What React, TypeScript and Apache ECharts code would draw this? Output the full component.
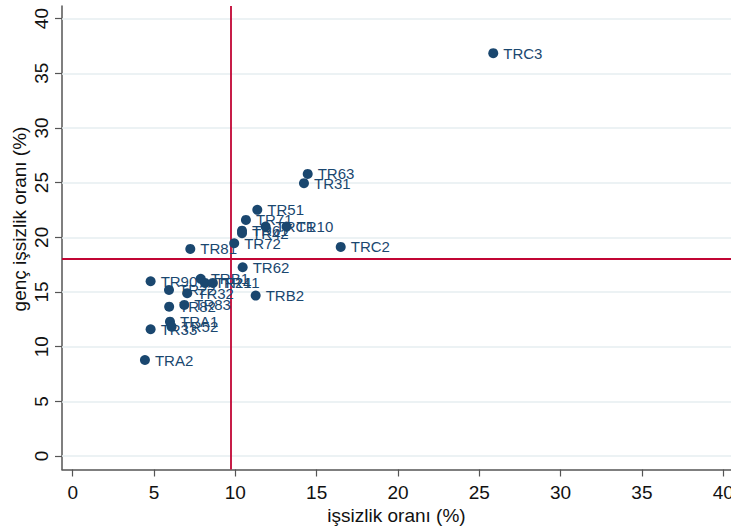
import React, { useEffect, useRef } from "react";
import * as echarts from "echarts";

const regions = [
  "TRC3", "TR63", "TR31", "TR51", "TR71", "TRC1", "TR10", "TR61", "TR42",
  "TR72", "TR81", "TRC2", "TR62", "TRB2", "TR90", "TRB1", "TR21", "TR41",
  "TR22", "TR32", "TR82", "TR83", "TRA1", "TR52", "TR33", "TRA2",
];
const unemployment = [
  25.86, 14.45, 14.22, 11.35, 10.65, 11.86, 13.15, 10.41, 10.41,
  9.93, 7.23, 16.48, 10.45, 11.25, 4.79, 7.87, 8.13, 8.62,
  5.92, 7.04, 5.93, 6.86, 5.98, 6.08, 4.79, 4.44,
];
const youthUnemployment = [
  36.84, 25.8, 24.95, 22.51, 21.59, 20.98, 20.98, 20.61, 20.37,
  19.46, 18.94, 19.12, 17.26, 14.67, 15.98, 16.2, 15.83, 15.83,
  15.19, 14.89, 13.66, 13.82, 12.29, 11.83, 11.59, 8.78,
];
const xTicks = [0, 5, 10, 15, 20, 25, 30, 35, 40];
const yTicks = [0, 5, 10, 15, 20, 25, 30, 35, 40];
const meanUnemployment = 9.71;
const meanYouthUnemployment = 18.0;

const FONT = "'Liberation Sans', Arial, sans-serif";
const NAVY = "#1a476f";
const RED = "#c10534";
const AXIS = "#555555";

export default function App() {
  const ref = useRef<HTMLDivElement>(null);
  useEffect(() => {
    if (!ref.current) return;
    const chart = echarts.init(ref.current, null, { renderer: "svg" });
    const points = regions.map((name, i) => ({
      name,
      value: [unemployment[i], youthUnemployment[i]],
    }));
    chart.setOption({
      animation: false,
      backgroundColor: "#ffffff",
      grid: {
        left: 62,
        right: 0,
        top: 6,
        bottom: 57.5,
        containLabel: false,
        outerBoundsMode: "none",
      },
      xAxis: {
        type: "value",
        min: -0.66,
        max: 40.48,
        name: "işsizlik oranı (%)",
        nameLocation: "middle",
        nameGap: 33,
        nameTextStyle: { fontFamily: FONT, fontSize: 19, color: "#111" },
        axisLine: { show: true, onZero: false, lineStyle: { color: AXIS, width: 1.5 } },
        axisTick: { show: true, length: 7, customValues: xTicks, lineStyle: { color: AXIS, width: 1.2 } },
        axisLabel: { customValues: xTicks, margin: 13, fontFamily: FONT, fontSize: 19, color: "#111" },
        splitLine: { show: false },
      },
      yAxis: {
        type: "value",
        min: -1.23,
        max: 41.15,
        axisLine: { show: true, onZero: false, lineStyle: { color: AXIS, width: 1.5 } },
        axisTick: { show: true, length: 7, customValues: yTicks, lineStyle: { color: AXIS, width: 1.2 } },
        axisLabel: { customValues: yTicks, rotate: 90, margin: 11, fontFamily: FONT, fontSize: 19, color: "#111" },
        splitLine: { show: false },
      },
      graphic: [
        {
          type: "text",
          x: 19,
          y: 219,
          rotation: Math.PI / 2,
          style: {
            text: "genç işsizlik oranı (%)",
            fontFamily: FONT,
            fontSize: 19,
            fill: "#111",
            textAlign: "center",
            textVerticalAlign: "middle",
          },
        },
      ],
      series: [
        {
          type: "line",
          data: [],
          z: 1,
          silent: true,
          markLine: {
            silent: true,
            symbol: "none",
            label: { show: false },
            lineStyle: { color: "#e6eef1", width: 1.5, type: "solid" },
            data: yTicks.map((v) => ({ yAxis: v })),
          },
        },
        {
          type: "line",
          data: [],
          z: 2,
          silent: true,
          markLine: {
            silent: true,
            symbol: "none",
            label: { show: false },
            lineStyle: { color: RED, width: 1.8, type: "solid" },
            data: [{ xAxis: meanUnemployment }, { yAxis: meanYouthUnemployment }],
          },
        },
        {
          type: "scatter",
          z: 5,
          symbol: "circle",
          symbolSize: 10,
          itemStyle: { color: NAVY, opacity: 1 },
          label: {
            show: true,
            position: "right",
            distance: 5,
            formatter: (p: any) => p.name,
            fontFamily: FONT,
            fontSize: 15,
            color: NAVY,
          },
          labelLayout: { hideOverlap: false },
          data: points,
        },
      ],
    });
    return () => chart.dispose();
  }, []);
  return (
    <div
      ref={ref}
      style={{ position: "fixed", left: 0, top: 0, width: 731, height: 527, background: "#fff" }}
    />
  );
}
